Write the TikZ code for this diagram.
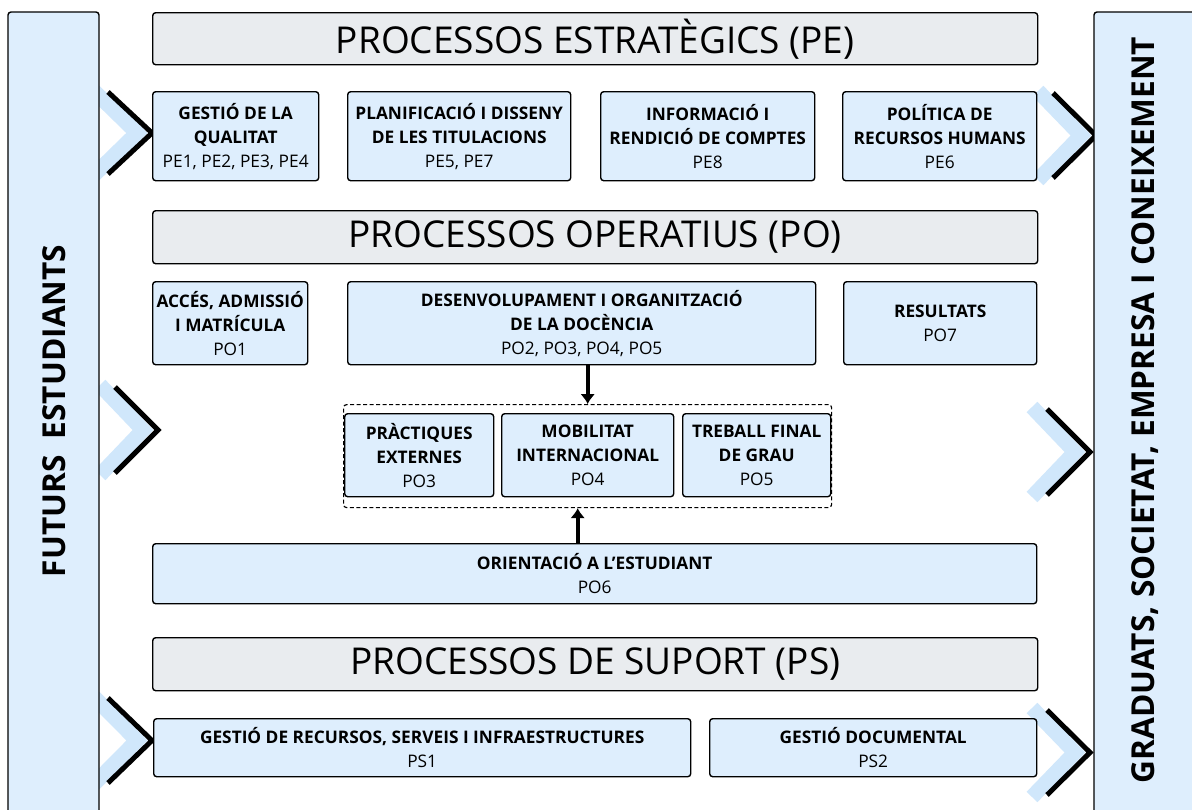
\documentclass[tikz,border=0pt]{standalone}
\usepackage{fontspec}
\setmainfont{Open Sans}
\usetikzlibrary{arrows.meta}
\definecolor{boxblue}{RGB}{222,238,253}
\definecolor{chevblue}{RGB}{208,231,251}
\definecolor{titlegray}{RGB}{233,236,239}
\tikzset{
  pbox/.style={draw=black, line width=1.4pt, rounded corners=3pt, fill=boxblue,
    anchor=north west, align=center, inner sep=1pt,
    font=\fontsize{17.3}{24}\selectfont},
  ptitle/.style={draw=black, line width=1.4pt, rounded corners=3pt, fill=titlegray,
    anchor=north west, align=center, inner sep=1pt,
    font=\fontsize{37}{40}\selectfont},
  sidebar/.style={draw=black, line width=1.4pt, rounded corners=3pt, fill=boxblue},
  sidetext/.style={font=\bfseries\fontsize{31.6}{34}\selectfont},
  groupbox/.style={draw=black, line width=1.2pt, dashed, dash pattern=on 4pt off 2.5pt,
    rounded corners=3pt, anchor=north west, inner sep=0pt},
  arr/.style={line width=3.8pt, -{Latex[length=10pt,width=15pt]}},
  chevbk/.style={line width=5pt, line join=miter, draw=black},
  chevbl/.style={line width=15pt, line join=miter, draw=chevblue},
}
\newcommand\mychev[4]{% #1 x of arm ends, #2 x of apex, #3 top y, #4 bottom y
  \draw[chevbl] ({#1-15},{#3-2}) -- ({#2-15},{(#3+#4)/2}) -- ({#1-15},{#4+2});
  \draw[chevbk] (#1,#3) -- (#2,{(#3+#4)/2}) -- (#1,#4);
}
\begin{document}
\begin{tikzpicture}[x=1pt,y=-1pt]
\useasboundingbox (0,0) rectangle (1192,809);
\clip (0,0) rectangle (1192,809);
\fill[white] (0,0) rectangle (1192,809);

% chevrons
\mychev{108}{152}{92}{174}
\mychev{115}{158}{387}{473}
\mychev{108}{152}{698}{783}
\mychev{1053}{1096}{93}{178}
\mychev{1047}{1090}{409}{495}
\mychev{1047}{1090}{710}{795}

% side bars
\draw[sidebar] (8,12) rectangle (99,840);
\draw[sidebar] (1094,12) rectangle (1230,840);
\node[sidetext, rotate=90] (fut) at (54,411) {FUTURS\ \ ESTUDIANTS};
\node[sidetext, rotate=90] (grad) at (1145,410) {GRADUATS, SOCIETAT, EMPRESA I CONEIXEMENT};

% estrategics
\node[ptitle, minimum width=885pt, minimum height=52pt] (pe) at (152,12) {PROCESSOS ESTRATÈGICS (PE)};
\node[pbox, minimum width=166pt, minimum height=89pt] (pe1) at (152,91)
  {\textbf{GESTIÓ DE LA}\\\textbf{QUALITAT}\\PE1, PE2, PE3, PE4};
\node[pbox, minimum width=223pt, minimum height=89pt] (pe2) at (347,91)
  {\textbf{PLANIFICACIÓ I DISSENY}\\\textbf{DE LES TITULACIONS}\\PE5, PE7};
\node[pbox, minimum width=214pt, minimum height=89pt] (pe3) at (600,91)
  {\textbf{INFORMACIÓ I}\\\textbf{RENDICIÓ DE COMPTES}\\PE8};
\node[pbox, minimum width=194pt, minimum height=89pt] (pe4) at (842,91)
  {\textbf{POLÍTICA DE}\\\textbf{RECURSOS HUMANS}\\PE6};

% operatius
\node[ptitle, minimum width=885pt, minimum height=53pt] (po) at (152,210) {PROCESSOS OPERATIUS (PO)};
\node[pbox, minimum width=155pt, minimum height=83pt] (po1) at (152,281)
  {\textbf{ACCÉS, ADMISSIÓ}\\\textbf{I MATRÍCULA}\\PO1};
\node[pbox, minimum width=468pt, minimum height=83pt] (po2) at (347,281)
  {\textbf{DESENVOLUPAMENT I ORGANITZACIÓ}\\\textbf{DE LA DOCÈNCIA}\\PO2, PO3, PO4, PO5};
\node[pbox, minimum width=193pt, minimum height=83pt] (po7) at (843,281)
  {\textbf{RESULTATS}\\PO7};

\node[groupbox, minimum width=488pt, minimum height=103pt] (grp) at (343,404) {};
\node[pbox, minimum width=149pt, minimum height=83pt] (po3) at (344,413)
  {\textbf{PRÀCTIQUES}\\\textbf{EXTERNES}\\PO3};
\node[pbox, minimum width=172pt, minimum height=83pt] (po4) at (501,413)
  {\textbf{MOBILITAT}\\\textbf{INTERNACIONAL}\\PO4};
\node[pbox, minimum width=148pt, minimum height=83pt] (po5) at (682,413)
  {\textbf{TREBALL FINAL}\\\textbf{DE GRAU}\\PO5};

\node[pbox, minimum width=884pt, minimum height=60pt] (po6) at (152,543)
  {\textbf{ORIENTACIÓ A L’ESTUDIANT}\\PO6};

\draw[arr] ([xshift=6pt]po2.south) -- ([xshift=6pt]po2.south |- grp.north);
\draw[arr] ([xshift=-17pt]po6.north) -- ([xshift=-17pt]po6.north |- grp.south);

% suport
\node[ptitle, minimum width=885pt, minimum height=53pt] (ps) at (152,637) {PROCESSOS DE SUPORT (PS)};
\node[pbox, minimum width=537pt, minimum height=58pt] (ps1) at (153,718)
  {\textbf{GESTIÓ DE RECURSOS, SERVEIS I INFRAESTRUCTURES}\\PS1};
\node[pbox, minimum width=327pt, minimum height=58pt] (ps2) at (709,718)
  {\textbf{GESTIÓ DOCUMENTAL}\\PS2};
\end{tikzpicture}
\end{document}
